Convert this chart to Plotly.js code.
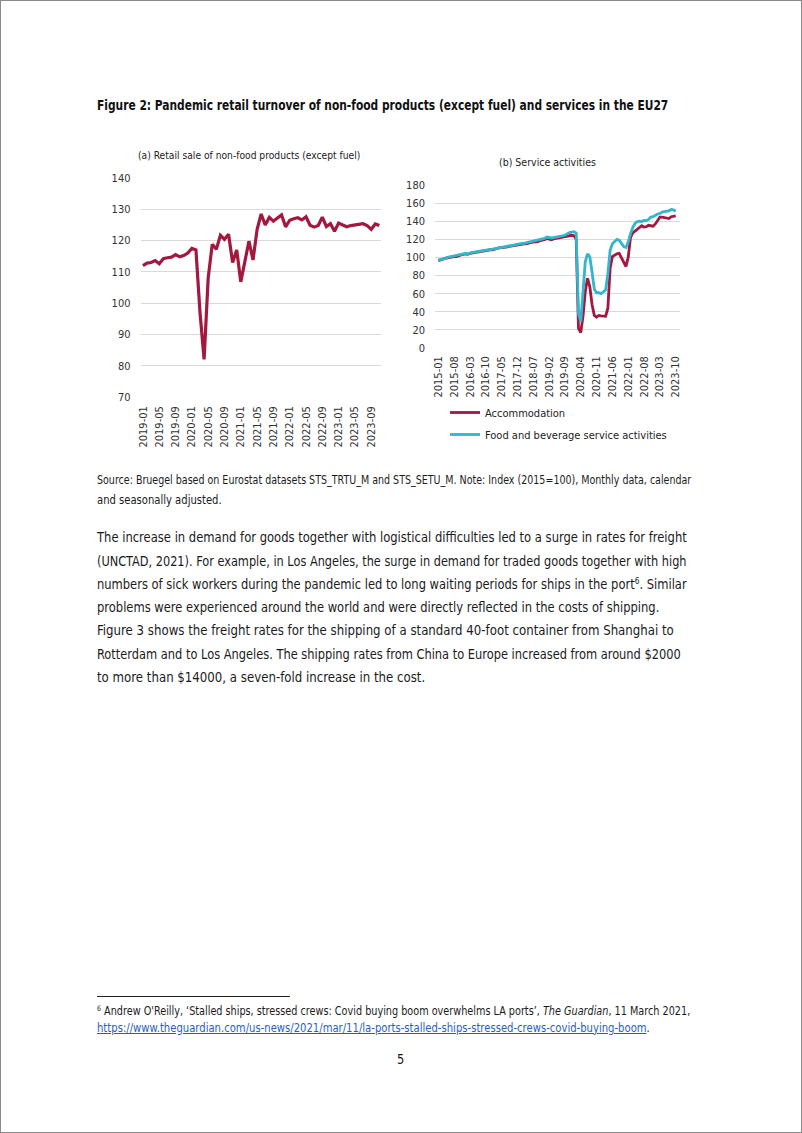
<!DOCTYPE html>
<html>
<head>
<meta charset="utf-8">
<script src="https://cdn.plot.ly/plotly-3.0.1.min.js"></script>
<style>
  html, body { margin:0; padding:0; background:#fff; }
  body { width:802px; height:1133px; position:relative; overflow:hidden; }
  #frame { position:absolute; left:0; top:0; width:800px; height:1131px; border:1px solid #8a8a8a; pointer-events:none; }
  #chart { position:absolute; left:0; top:0; width:802px; height:470px; }
  .ln { position:absolute; white-space:nowrap; transform-origin:0 50%; color:#1b1b1b;
        font-family:"Liberation Sans Narrow","DejaVu Sans Condensed","Lato","Roboto",sans-serif; line-height:1; }
  .ttl { font-weight:bold; font-size:13.5px; color:#111; }
  .src { font-size:11.5px; }
  .body { font-size:14.5px; }
  .fn { font-size:11.5px; }
  sup { font-size:65%; vertical-align:0.55em; line-height:0; }
  a { color:#1f5fc4; text-decoration:underline; }
  #rule { position:absolute; left:97px; top:996px; width:193px; height:0; border-top:1px solid #222; }
</style>
</head>
<body>
<div id="frame"></div>
<div id="chart"></div>

<div class="ln ttl" data-x="97" data-y="106" data-w="571">Figure 2: Pandemic retail turnover of non-food products (except fuel) and services in the EU27</div>

<div class="ln src" data-x="97" data-y="481" data-w="594">Source: Bruegel based on Eurostat datasets STS_TRTU_M and STS_SETU_M. Note: Index (2015=100), Monthly data, calendar</div>
<div class="ln src" data-x="97" data-y="501" data-w="125">and seasonally adjusted.</div>

<div class="ln body" data-x="97" data-y="538" data-w="590">The increase in demand for goods together with logistical difficulties led to a surge in rates for freight</div>
<div class="ln body" data-x="97" data-y="562" data-w="590">(UNCTAD, 2021). For example, in Los Angeles, the surge in demand for traded goods together with high</div>
<div class="ln body" data-x="97" data-y="585" data-w="590">numbers of sick workers during the pandemic led to long waiting periods for ships in the port<sup>6</sup>. Similar</div>
<div class="ln body" data-x="97" data-y="608" data-w="562">problems were experienced around the world and were directly reflected in the costs of shipping.</div>
<div class="ln body" data-x="97" data-y="631" data-w="577">Figure 3 shows the freight rates for the shipping of a standard 40-foot container from Shanghai to</div>
<div class="ln body" data-x="97" data-y="655" data-w="584">Rotterdam and to Los Angeles. The shipping rates from China to Europe increased from around $2000</div>
<div class="ln body" data-x="97" data-y="678" data-w="328">to more than $14000, a seven-fold increase in the cost.</div>

<div id="rule"></div>
<div class="ln fn" data-x="97" data-y="1012" data-w="593"><sup>6</sup> Andrew O'Reilly, ‘Stalled ships, stressed crews: Covid buying boom overwhelms LA ports’, <i>The Guardian</i>, 11 March 2021,</div>
<div class="ln fn" data-x="97" data-y="1029" data-w="553"><a>https://www.theguardian.com/us-news/2021/mar/11/la-ports-stalled-ships-stressed-crews-covid-buying-boom</a>.</div>
<div class="ln body" data-x="397" data-y="1060" data-w="7">5</div>

<script>
// ---------- DATA ----------
// (a) Retail sale of non-food products (except fuel), 2019-01 .. 2023-11
const retailStart = [2019, 1];
const retailValues = [
  112, 112.8, 113, 113.6, 112.6, 114.2, 114.5, 114.7, 115.5, 114.8, 115.2, 116,
  117.5, 117, 97, 82, 108, 118.8, 117.2, 121.7, 120.4, 122, 113, 117,
  106.8, 114, 119.8, 113.8, 123.5, 128.5, 125, 127.4, 126.2, 127.2, 128.2, 124.4,
  126.5, 127, 127.3, 126.6, 127.6, 124.9, 124.3, 124.8, 127.5, 124.5, 125.4, 123,
  125.6, 125, 124.4, 124.8, 125, 125.3, 125.4, 124.8, 123.6, 125.3, 124.8
];
const retailTicks = ["2019-01","2019-05","2019-09","2020-01","2020-05","2020-09","2021-01","2021-05",
  "2021-09","2022-01","2022-05","2022-09","2023-01","2023-05","2023-09"];

// (b) Service activities, 2015-01 .. 2023-10
const serviceStart = [2015, 1];
const accommodation = [
  96.5, 97, 98, 99, 99.5, 100.5, 100.5, 101, 101, 102, 103, 103.5,
  104, 103.5, 104.5, 105, 105.5, 106, 106.5, 107, 107, 107.5, 108, 108.5,
  108.5, 109.5, 110, 110.5, 110.5, 111, 111.5, 112, 112.5, 113, 113, 113.5,
  114, 114.5, 115, 115, 116, 116.5, 117, 117, 117.5, 118.5, 119, 119.5,
  121, 120, 119.5, 120.5, 121, 121, 121.5, 122, 122.5, 123, 123.5, 124.5,
  124, 120, 22, 17, 35, 62, 77, 68, 48, 36, 34, 36,
  35.5, 35, 35, 44, 88, 101, 103, 104, 104.5, 99, 94, 90,
  100, 122, 127, 129, 130, 133, 135, 133.5, 134, 135.5, 135, 134.5,
  137, 141, 144.5, 144.5, 144, 143.5, 143, 145, 145.5, 146
];
const foodBeverage = [
  97, 97.5, 98.5, 99, 100, 100.5, 101, 101.5, 102, 102.5, 103, 104,
  104.5, 104, 105, 105.5, 106, 106.5, 106.5, 107, 107.5, 108, 108, 108.5,
  109, 110, 110.5, 111, 111.5, 111.5, 112, 112.5, 113, 113.5, 114, 114.5,
  115, 115.5, 115.5, 116.5, 117, 117.5, 118, 118.5, 119, 119.5, 120, 121,
  122.5, 122, 121.5, 122, 122.5, 123, 123.5, 124, 124.5, 126, 127.5, 128,
  128.5, 127, 38, 29, 62, 95, 104, 101, 84, 65, 61, 61,
  60, 62, 64, 82, 108, 115, 118, 120, 119, 115, 112, 111,
  117, 126, 133, 137.5, 139.5, 140, 139.5, 141, 140.5, 142, 144.5, 145,
  146.5, 148, 148.5, 150, 150.5, 151, 151.5, 153, 152.5, 151
];
const serviceTicks = ["2015-01","2015-08","2016-03","2016-10","2017-05","2017-12","2018-07","2019-02",
  "2019-09","2020-04","2020-11","2021-06","2022-01","2022-08","2023-03","2023-10"];
const seriesNames = ["Accommodation", "Food and beverage service activities"];
const subtitles = ["(a) Retail sale of non-food products (except fuel)", "(b) Service activities"];

// month category labels
function months(start, n) {
  const out = [];
  let y = start[0], m = start[1];
  for (let i = 0; i < n; i++) {
    out.push(y + "-" + String(m).padStart(2, "0"));
    m++; if (m > 12) { m = 1; y++; }
  }
  return out;
}
const retailMonths = months(retailStart, retailValues.length);
const serviceMonths = months(serviceStart, accommodation.length);

// ---------- STYLE ----------
const RED = "#a3183f";
const CYAN = "#33b5cc";
const FONT = '"Liberation Sans Narrow","DejaVu Sans Condensed","Roboto","Lato",sans-serif';
const H = 470, W = 802;
const fy = px => 1 - px / H;
const fx = px => px / W;

const traces = [
  { x: retailMonths, y: retailValues, xaxis: "x", yaxis: "y", type: "scatter", mode: "lines",
    line: { color: RED, width: 3.2 }, showlegend: false, hoverinfo: "skip" },
  { x: serviceMonths, y: accommodation, xaxis: "x2", yaxis: "y2", type: "scatter", mode: "lines",
    name: seriesNames[0], legendgroup: "a", line: { color: RED, width: 2.8 } },
  { x: serviceMonths, y: foodBeverage, xaxis: "x2", yaxis: "y2", type: "scatter", mode: "lines",
    name: seriesNames[1], legendgroup: "b", line: { color: CYAN, width: 2.8 } }
];

const xBase = { type: "category", showgrid: false, zeroline: false, showline: false, ticks: "",
  tickangle: -90, tickfont: { family: FONT, size: 11, color: "#333" }, fixedrange: true, automargin: false };
const yBase = { showgrid: true, gridcolor: "#d9d9d9", gridwidth: 1, zeroline: false, showline: false,
  ticks: "", tickfont: { family: FONT, size: 11, color: "#333" }, fixedrange: true, automargin: false };

const layout = {
  width: W, height: H,
  margin: { l: 0, r: 0, t: 0, b: 0 },
  paper_bgcolor: "rgba(0,0,0,0)", plot_bgcolor: "rgba(0,0,0,0)",
  font: { family: FONT, size: 11, color: "#333" },
  xaxis: Object.assign({}, xBase, { domain: [fx(140.5), fx(381)], anchor: "y",
    range: [-0.6, 58.4], tickmode: "array", tickvals: retailTicks, ticktext: retailTicks, ticklabelstandoff: 6 }),
  yaxis: Object.assign({}, yBase, { domain: [fy(397), fy(178)], anchor: "x",
    range: [70, 140], dtick: 10, tick0: 70, ticklabelstandoff: 9 }),
  xaxis2: Object.assign({}, xBase, { domain: [fx(435), fx(680)], anchor: "y2",
    range: [-1.45, 106.9], tickmode: "array", tickvals: serviceTicks, ticktext: serviceTicks, ticklabelstandoff: 5 }),
  yaxis2: Object.assign({}, yBase, { domain: [fy(348), fy(185)], anchor: "x2",
    range: [0, 180], dtick: 20, tick0: 0, ticklabelstandoff: 9 }),
  showlegend: true,
  legend: { x: fx(445), y: fy(398), xanchor: "left", yanchor: "top", orientation: "v",
    bgcolor: "rgba(0,0,0,0)", itemwidth: 30, tracegroupgap: 3,
    font: { family: FONT, size: 11, color: "#222" } },
  annotations: [
    { text: subtitles[0], xref: "paper", yref: "paper", x: fx(249), y: fy(155), xanchor: "center", yanchor: "middle",
      showarrow: false, font: { family: FONT, size: 10.2, color: "#222" } },
    { text: subtitles[1], xref: "paper", yref: "paper", x: fx(547), y: fy(162), xanchor: "center", yanchor: "middle",
      showarrow: false, font: { family: FONT, size: 10.5, color: "#222" } }
  ]
};

Plotly.newPlot("chart", traces, layout, { staticPlot: true, displayModeBar: false });

// ---------- text lines: position and fit to measured widths ----------
function placeLines() {
  document.querySelectorAll(".ln").forEach(el => {
    const fs = parseFloat(getComputedStyle(el).fontSize);
    el.style.transform = "none";
    el.style.left = el.dataset.x + "px";
    el.style.top = (parseFloat(el.dataset.y) - fs * 0.55) + "px";
    const nat = el.scrollWidth;
    const w = parseFloat(el.dataset.w);
    if (nat > 0) el.style.transform = "scaleX(" + (w / nat) + ")";
  });
}
placeLines();
if (document.fonts && document.fonts.ready) document.fonts.ready.then(placeLines);
</script>
</body>
</html>
